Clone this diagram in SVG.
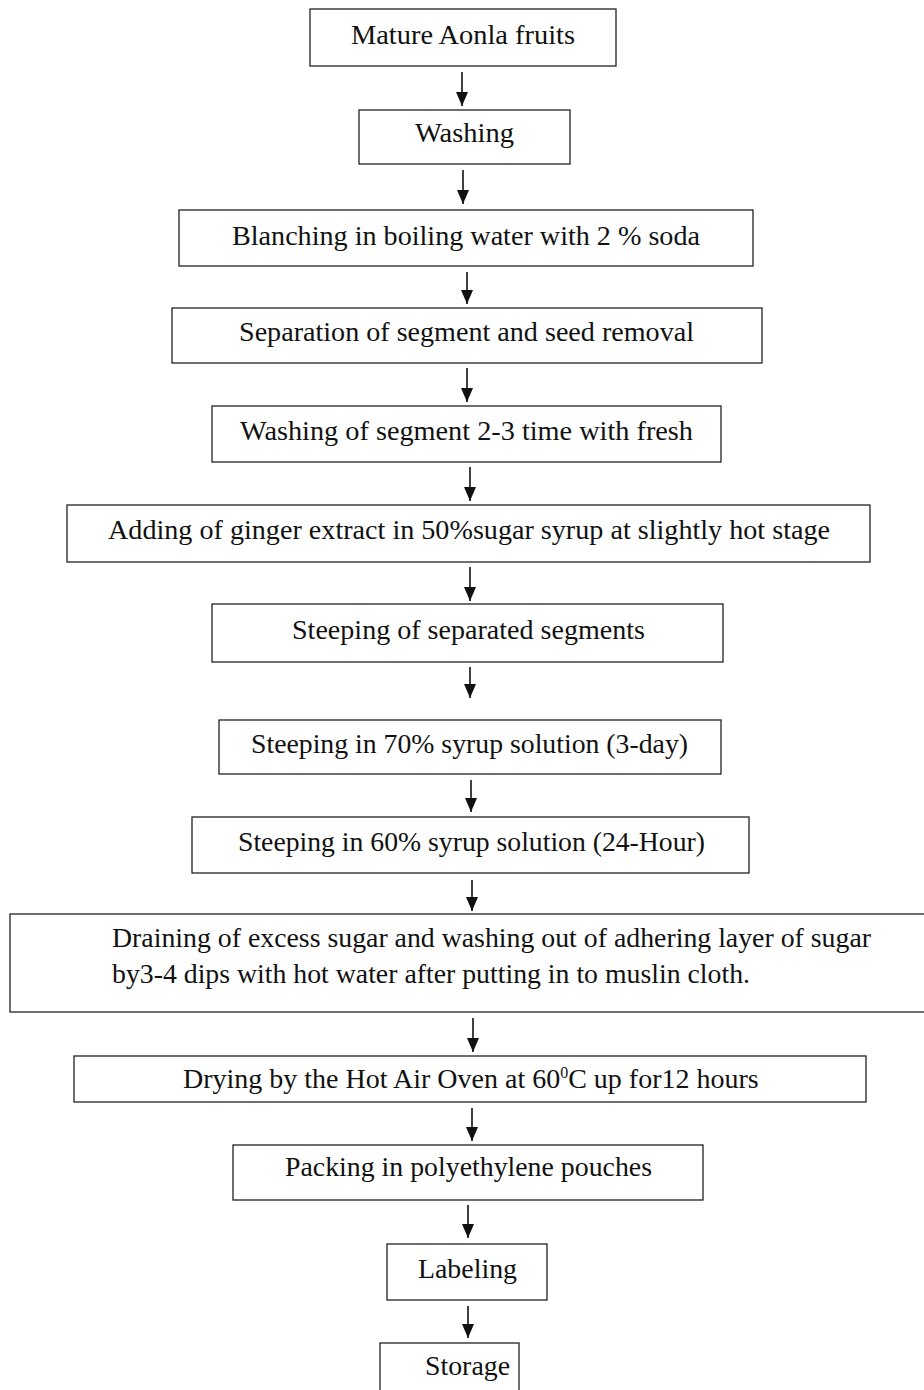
<svg xmlns="http://www.w3.org/2000/svg" width="924" height="1390" viewBox="0 0 924 1390">
<style>
.box{fill:#fff;stroke:#222;stroke-width:1.3}
.t{font-family:"Liberation Serif","Times New Roman",serif;font-size:28px;fill:#111}
.c{stroke:#111;stroke-width:1.6;fill:none}
</style>
<defs>
<marker id="ah" markerUnits="userSpaceOnUse" markerWidth="14" markerHeight="12" refX="14" refY="6" orient="auto" viewBox="0 0 14 12">
<path d="M0,0 L14,6 L0,12 Z" fill="#111"/>
</marker>
</defs>
<rect width="924" height="1390" fill="#fff"/>
<g id="n1"><rect class="box" x="310" y="9" width="306" height="57"/><text class="t" x="351" y="44" textLength="224" lengthAdjust="spacingAndGlyphs">Mature Aonla fruits</text></g>
<g id="n2"><rect class="box" x="359" y="110" width="211" height="54"/><text class="t" x="415" y="142" textLength="99" lengthAdjust="spacingAndGlyphs">Washing</text></g>
<g id="n3"><rect class="box" x="179" y="210" width="574" height="56"/><text class="t" x="232" y="245" textLength="468" lengthAdjust="spacingAndGlyphs">Blanching in boiling water with 2 % soda</text></g>
<g id="n4"><rect class="box" x="172" y="308" width="590" height="55"/><text class="t" x="239" y="341" textLength="455" lengthAdjust="spacingAndGlyphs">Separation of segment and seed removal</text></g>
<g id="n5"><rect class="box" x="212" y="406" width="509" height="56"/><text class="t" x="240" y="440" textLength="453" lengthAdjust="spacingAndGlyphs">Washing of segment 2-3 time with fresh</text></g>
<g id="n6"><rect class="box" x="67" y="505" width="803" height="57"/><text class="t" x="108" y="539" textLength="722" lengthAdjust="spacingAndGlyphs">Adding of ginger extract in 50%sugar syrup at slightly hot stage</text></g>
<g id="n7"><rect class="box" x="212" y="604" width="511" height="58"/><text class="t" x="292" y="639" textLength="353" lengthAdjust="spacingAndGlyphs">Steeping of separated segments</text></g>
<g id="n8"><rect class="box" x="219" y="720" width="502" height="54"/><text class="t" x="251" y="753" textLength="437" lengthAdjust="spacingAndGlyphs">Steeping in 70% syrup solution (3-day)</text></g>
<g id="n9"><rect class="box" x="192" y="817" width="557" height="56"/><text class="t" x="238" y="851" textLength="467" lengthAdjust="spacingAndGlyphs">Steeping in 60% syrup solution (24-Hour)</text></g>
<g id="n10"><rect class="box" x="10" y="914" width="930" height="98"/><text class="t" x="112" y="947" textLength="759" lengthAdjust="spacingAndGlyphs">Draining of excess sugar and washing out of adhering layer of sugar</text><text class="t" x="112" y="983" textLength="638" lengthAdjust="spacingAndGlyphs">by3-4 dips with hot water after putting in to muslin cloth.</text></g>
<g id="n11"><rect class="box" x="74" y="1056" width="792" height="46"/><text class="t" x="183" y="1088">Drying by the Hot Air Oven at 60<tspan font-size="16" dy="-10">0</tspan><tspan dy="10">C up for12 hours</tspan></text></g>
<g id="n12"><rect class="box" x="233" y="1145" width="470" height="55"/><text class="t" x="285" y="1176" textLength="367" lengthAdjust="spacingAndGlyphs">Packing in polyethylene pouches</text></g>
<g id="n13"><rect class="box" x="387" y="1244" width="160" height="56"/><text class="t" x="418" y="1278" textLength="99" lengthAdjust="spacingAndGlyphs">Labeling</text></g>
<g id="n14"><rect class="box" x="380" y="1343" width="139" height="60"/><text class="t" x="425" y="1375" textLength="85" lengthAdjust="spacingAndGlyphs">Storage</text></g>
<g id="connectors">
<line class="c" x1="462" y1="72" x2="462" y2="106" marker-end="url(#ah)"/>
<line class="c" x1="463" y1="170" x2="463" y2="204" marker-end="url(#ah)"/>
<line class="c" x1="467" y1="272" x2="467" y2="304" marker-end="url(#ah)"/>
<line class="c" x1="467" y1="368" x2="467" y2="402" marker-end="url(#ah)"/>
<line class="c" x1="470" y1="467" x2="470" y2="501" marker-end="url(#ah)"/>
<line class="c" x1="470" y1="567" x2="470" y2="601" marker-end="url(#ah)"/>
<line class="c" x1="470" y1="667" x2="470" y2="698" marker-end="url(#ah)"/>
<line class="c" x1="471" y1="780" x2="471" y2="812" marker-end="url(#ah)"/>
<line class="c" x1="472" y1="880" x2="472" y2="911" marker-end="url(#ah)"/>
<line class="c" x1="473" y1="1018" x2="473" y2="1052" marker-end="url(#ah)"/>
<line class="c" x1="472" y1="1108" x2="472" y2="1141" marker-end="url(#ah)"/>
<line class="c" x1="468" y1="1205" x2="468" y2="1238" marker-end="url(#ah)"/>
<line class="c" x1="468" y1="1306" x2="468" y2="1338" marker-end="url(#ah)"/>
</g>
</svg>
